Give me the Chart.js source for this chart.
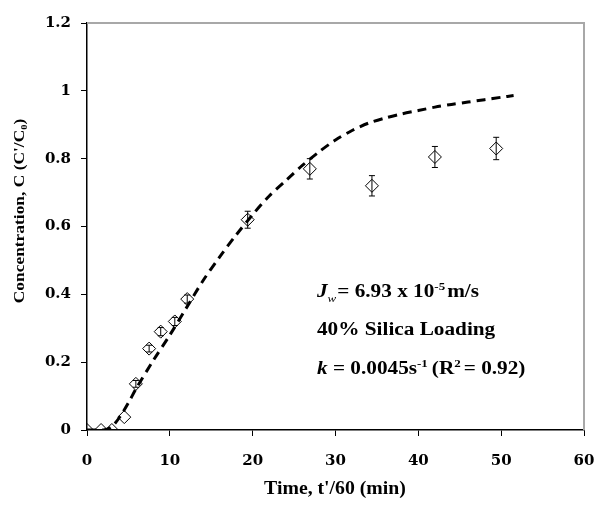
<!DOCTYPE html>
<html>
<head>
<meta charset="utf-8">
<script src="https://cdn.jsdelivr.net/npm/chart.js@4"></script>
<style>
  body { margin: 0; background: #fff; }
  #wrap { width: 600px; height: 509px; }
</style>
</head>
<body>
<div id="wrap"><canvas id="c" width="600" height="509"></canvas></div>
<script>
// measured points (diamonds)
var timePts = [0, 1.7, 3.0, 4.5, 5.9, 7.5, 8.9, 10.6, 12.1, 19.4, 26.9, 34.4, 42.0, 49.4];
var concPts = [0, 0, 0, 0.038, 0.136, 0.24, 0.29, 0.32, 0.386, 0.62, 0.77, 0.72, 0.805, 0.83];
var errPts  = [0, 0.005, 0.005, 0.008, 0.01, 0.01, 0.012, 0.012, 0.012, 0.025, 0.03, 0.03, 0.031, 0.033];

// model curve (dashed)
var timeFit = [0, 2, 3, 4, 5, 6, 8, 10, 12, 14, 16, 18, 20, 22, 24, 26, 28, 30, 32, 34, 36, 38, 40, 42, 44, 46, 48, 50, 51.5];
var concFit = [0, 0, 0.01, 0.04, 0.08, 0.125, 0.205, 0.28, 0.36, 0.44, 0.51, 0.575, 0.635, 0.69, 0.735, 0.78, 0.82, 0.855, 0.883, 0.905, 0.92, 0.932, 0.942, 0.952, 0.96, 0.967, 0.974, 0.981, 0.986];

var xTicks = [0, 10, 20, 30, 40, 50, 60];
var yTicks = [0, 0.2, 0.4, 0.6, 0.8, 1, 1.2];

var serif = "'Liberation Serif', 'Times New Roman', serif";
var tickFont = "'DejaVu Serif', serif";

function toXY(xs, ys) {
  return xs.map(function (x, i) { return { x: x, y: ys[i] }; });
}

// text stretched sideways, like the scanned figure
function wideText(ctx, txt, x, y, sx) {
  ctx.save();
  ctx.translate(x, y);
  ctx.scale(sx, 1);
  ctx.fillText(txt, 0, 0);
  ctx.restore();
  return ctx.measureText(txt).width * sx;
}

// error bars + frame + texts
var extras = {
  id: 'extras',
  beforeDatasetsDraw: function (chart) {
    var ctx = chart.ctx, a = chart.chartArea;
    var xs = chart.scales.x, ys = chart.scales.y;
    ctx.save();
    // grey top / right border
    ctx.strokeStyle = '#a8a8a8';
    ctx.lineWidth = 2;
    ctx.beginPath();
    ctx.moveTo(a.left, a.top);
    ctx.lineTo(a.right, a.top);
    ctx.lineTo(a.right, a.bottom);
    ctx.stroke();
    // error bars
    ctx.strokeStyle = '#000';
    ctx.lineWidth = 1;
    timePts.forEach(function (t, i) {
      var e = errPts[i];
      if (e < 0.01) return;
      var px = xs.getPixelForValue(t);
      var top = ys.getPixelForValue(concPts[i] + e);
      var bot = ys.getPixelForValue(concPts[i] - e);
      ctx.beginPath();
      ctx.moveTo(px, top); ctx.lineTo(px, bot);
      ctx.moveTo(px - 3, top); ctx.lineTo(px + 3, top);
      ctx.moveTo(px - 3, bot); ctx.lineTo(px + 3, bot);
      ctx.stroke();
    });
    ctx.restore();
  },
  afterDraw: function (chart) {
    var ctx = chart.ctx;
    ctx.save();
    ctx.fillStyle = '#000';
    // axis titles
    ctx.font = 'bold 19px ' + serif;
    ctx.textAlign = 'center';
    ctx.textBaseline = 'middle';
    ctx.save();
    ctx.translate(335, 489);
    ctx.scale(1.04, 1);
    ctx.fillText("Time, t'/60 (min)", 0, 0);
    ctx.restore();
    ctx.save();
    ctx.font = 'bold 15px ' + serif;
    ctx.translate(20, 211);
    ctx.rotate(-Math.PI / 2);
    ctx.scale(1.16, 1);
    ctx.fillText("Concentration, C (C'/C\u2080)", 0, 0);
    ctx.restore();

    // annotation
    ctx.textAlign = 'left';
    ctx.textBaseline = 'alphabetic';
    var sx = 1.18;
    var x0 = 317;
    var big = 'bold 18px ' + serif, small = 'bold 11px ' + serif;
    var x = x0;
    ctx.font = 'bold italic 18px ' + serif;
    x += wideText(ctx, 'J', x, 297, sx);
    ctx.font = 'italic 11px ' + serif;
    x += wideText(ctx, 'w', x, 302, sx) + 1;
    ctx.font = big;
    x += wideText(ctx, '= 6.93 x 10', x, 297, sx);
    ctx.font = small;
    x += wideText(ctx, '-5', x, 290, sx) + 2;
    ctx.font = big;
    wideText(ctx, 'm/s', x, 297, sx);

    wideText(ctx, '40% Silica Loading', x0, 335, sx);

    x = x0;
    ctx.font = 'bold italic 18px ' + serif;
    x += wideText(ctx, 'k ', x, 374, sx);
    ctx.font = big;
    x += wideText(ctx, '= 0.0045s', x, 374, sx);
    ctx.font = small;
    x += wideText(ctx, '-1', x, 367, sx) + 4;
    ctx.font = big;
    x += wideText(ctx, '(R', x, 374, sx);
    ctx.font = small;
    x += wideText(ctx, '2', x, 367, sx) + 3;
    ctx.font = big;
    wideText(ctx, '= 0.92)', x, 374, sx);
    ctx.restore();
  }
};

new Chart(document.getElementById('c'), {
  type: 'scatter',
  data: {
    datasets: [
      {
        label: 'Model',
        type: 'line',
        data: toXY(timeFit, concFit),
        borderColor: '#000',
        borderWidth: 3,
        borderDash: [9, 6],
        pointRadius: 0,
        tension: 0.3,
        fill: false,
        order: 2
      },
      {
        label: 'Data',
        data: toXY(timePts, concPts),
        pointStyle: 'rectRot',
        pointRadius: 6.5,
        pointBackgroundColor: 'rgba(255,255,255,0)',
        pointBorderColor: '#000',
        pointBorderWidth: 1,
        order: 1
      }
    ]
  },
  plugins: [extras],
  options: {
    responsive: false,
    animation: false,
    layout: { padding: { top: 23, right: 0, left: 0, bottom: 0 } },
    plugins: { legend: { display: false }, tooltip: { enabled: false } },
    scales: {
      x: {
        type: 'linear',
        min: 0, max: 60,
        afterBuildTicks: function (s) { s.ticks = xTicks.map(function (v) { return { value: v }; }); },
        afterFit: function (s) { s.height = 79; s.paddingLeft = 0; s.paddingRight = 16; },
        grid: { drawOnChartArea: false, tickLength: 6, color: '#000' },
        border: { color: '#000', width: 1.5 },
        ticks: { color: '#000', padding: 16, font: { family: tickFont, size: 15, weight: 'bold' }, maxRotation: 0 }
      },
      y: {
        min: 0, max: 1.2,
        afterBuildTicks: function (s) { s.ticks = yTicks.map(function (v) { return { value: v }; }); },
        afterFit: function (s) { s.width = 87; s.paddingTop = 0; s.paddingBottom = 0; },
        grid: { drawOnChartArea: false, tickLength: 6, color: '#000' },
        border: { color: '#000', width: 1.5 },
        ticks: { color: '#000', padding: 10, font: { family: tickFont, size: 15, weight: 'bold' },
          callback: function (v) { return String(Math.round(v * 10) / 10); } }
      }
    }
  }
});
</script>
</body>
</html>
